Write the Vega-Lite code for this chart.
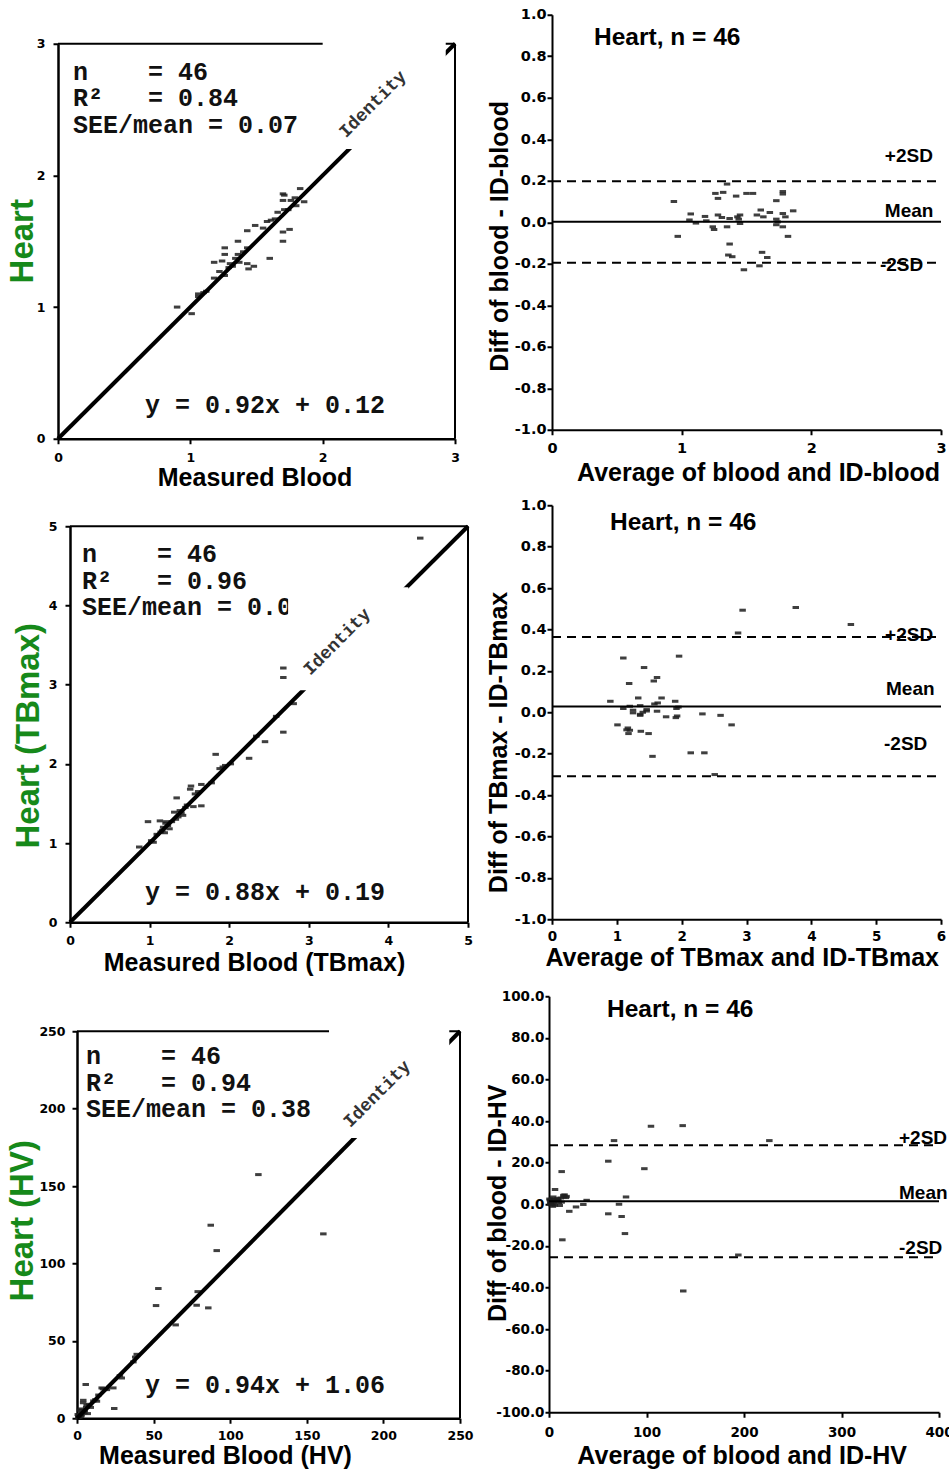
{
  "$schema": "https://vega.github.io/schema/vega-lite/v6.json",
  "background": "white",
  "padding": {"left": 6, "top": 6.75, "right": 0, "bottom": 0},
  "config": {
    "view": {"stroke": null},
    "axis": {
      "grid": false,
      "domainColor": "#000",
      "domainWidth": 2,
      "tickColor": "#000",
      "tickSize": 5,
      "tickWidth": 2,
      "labelColor": "#000",
      "labelFont": "DejaVu Sans",
      "labelFontWeight": "bold",
      "labelFlush": false,
      "labelOverlap": false,
      "titleFont": "Liberation Sans",
      "titleFontWeight": "bold",
      "titleColor": "#000",
      "titleFontSize": 25,
      "titleBaseline": "middle"
    }
  },
  "datasets": {
    "heart": [
      {"blood":0.90,"heart":1.00},{"blood":1.01,"heart":0.95},{"blood":1.06,"heart":1.10},{"blood":1.06,"heart":1.08},{"blood":1.12,"heart":1.12},
      {"blood":1.18,"heart":1.22},{"blood":1.26,"heart":1.24},{"blood":1.18,"heart":1.34},{"blood":1.24,"heart":1.35},{"blood":1.26,"heart":1.45},
      {"blood":1.26,"heart":1.40},{"blood":1.30,"heart":1.33},{"blood":1.32,"heart":1.31},{"blood":1.36,"heart":1.40},{"blood":1.37,"heart":1.34},
      {"blood":1.36,"heart":1.50},{"blood":1.43,"heart":1.33},{"blood":1.48,"heart":1.31},{"blood":1.44,"heart":1.29},{"blood":1.43,"heart":1.45},
      {"blood":1.43,"heart":1.58},{"blood":1.49,"heart":1.62},{"blood":1.55,"heart":1.60},{"blood":1.60,"heart":1.37},{"blood":1.58,"heart":1.65},
      {"blood":1.61,"heart":1.66},{"blood":1.66,"heart":1.72},{"blood":1.70,"heart":1.57},{"blood":1.70,"heart":1.50},{"blood":1.75,"heart":1.59},
      {"blood":1.71,"heart":1.74},{"blood":1.70,"heart":1.81},{"blood":1.70,"heart":1.86},{"blood":1.71,"heart":1.85},{"blood":1.76,"heart":1.81},
      {"blood":1.79,"heart":1.83},{"blood":1.80,"heart":1.77},{"blood":1.86,"heart":1.80},{"blood":1.83,"heart":1.90},{"blood":1.74,"heart":1.74},
      {"blood":1.22,"heart":1.27},{"blood":1.34,"heart":1.37},{"blood":1.40,"heart":1.42},{"blood":1.10,"heart":1.11},{"blood":1.64,"heart":1.67},
      {"blood":1.29,"heart":1.30}
    ],
    "heartBA": [
      {"mean":0.94,"diff":0.100},{"mean":0.97,"diff":-0.068},{"mean":1.07,"diff":0.040},{"mean":1.06,"diff":0.011},{"mean":1.11,"diff":-0.004},
      {"mean":1.18,"diff":0.028},{"mean":1.19,"diff":0.007},{"mean":1.24,"diff":-0.022},{"mean":1.25,"diff":-0.035},{"mean":1.26,"diff":0.139},
      {"mean":1.32,"diff":0.144},{"mean":1.28,"diff":0.115},{"mean":1.35,"diff":0.184},{"mean":1.28,"diff":0.035},{"mean":1.31,"diff":0.023},
      {"mean":1.35,"diff":-0.022},{"mean":1.37,"diff":0.018},{"mean":1.37,"diff":-0.105},{"mean":1.36,"diff":-0.158},{"mean":1.39,"diff":-0.166},
      {"mean":1.42,"diff":0.126},{"mean":1.43,"diff":0.026},{"mean":1.44,"diff":0.015},{"mean":1.45,"diff":-0.006},{"mean":1.48,"diff":-0.229},
      {"mean":1.50,"diff":0.139},{"mean":1.55,"diff":0.139},{"mean":1.58,"diff":0.035},{"mean":1.61,"diff":0.059},{"mean":1.62,"diff":-0.145},
      {"mean":1.66,"diff":-0.170},{"mean":1.60,"diff":-0.210},{"mean":1.63,"diff":0.026},{"mean":1.68,"diff":0.047},{"mean":1.73,"diff":0.104},
      {"mean":1.73,"diff":0.015},{"mean":1.73,"diff":-0.012},{"mean":1.78,"diff":-0.022},{"mean":1.78,"diff":0.042},{"mean":1.80,"diff":0.026},
      {"mean":1.78,"diff":0.148},{"mean":1.78,"diff":0.136},{"mean":1.82,"diff":-0.068},{"mean":1.86,"diff":0.055},{"mean":1.45,"diff":0.035},
      {"mean":1.74,"diff":0.002}
    ],
    "tbmax": [
      {"blood":2.68,"heart":3.21},{"blood":2.68,"heart":3.09},{"blood":2.81,"heart":2.76},{"blood":2.59,"heart":2.60},{"blood":2.68,"heart":2.40},
      {"blood":2.34,"heart":2.35},{"blood":2.45,"heart":2.28},{"blood":2.25,"heart":2.07},{"blood":1.83,"heart":2.12},{"blood":1.95,"heart":1.98},
      {"blood":1.88,"heart":1.94},{"blood":1.78,"heart":1.76},{"blood":1.65,"heart":1.74},{"blood":1.52,"heart":1.72},{"blood":1.51,"heart":1.68},
      {"blood":1.61,"heart":1.65},{"blood":1.34,"heart":1.57},{"blood":1.47,"heart":1.48},{"blood":1.55,"heart":1.46},{"blood":1.65,"heart":1.47},
      {"blood":1.38,"heart":1.41},{"blood":1.31,"heart":1.39},{"blood":1.42,"heart":1.35},{"blood":1.36,"heart":1.33},{"blood":0.98,"heart":1.27},
      {"blood":1.13,"heart":1.28},{"blood":1.21,"heart":1.27},{"blood":1.28,"heart":1.27},{"blood":1.17,"heart":1.20},{"blood":1.25,"heart":1.18},
      {"blood":1.14,"heart":1.14},{"blood":1.19,"heart":1.13},{"blood":1.09,"heart":1.11},{"blood":1.05,"heart":1.01},{"blood":0.87,"heart":0.95},
      {"blood":4.40,"heart":4.85},{"blood":1.92,"heart":1.96},{"blood":1.40,"heart":1.38},{"blood":1.23,"heart":1.22},{"blood":1.16,"heart":1.16},
      {"blood":1.57,"heart":1.62},{"blood":1.33,"heart":1.30},{"blood":1.02,"heart":1.03},{"blood":1.45,"heart":1.45},{"blood":1.20,"heart":1.25},
      {"blood":2.02,"heart":2.00}
    ],
    "tbmaxBA": [
      {"mean":2.94,"diff":0.493},{"mean":3.76,"diff":0.506},{"mean":4.61,"diff":0.424},{"mean":2.87,"diff":0.383},{"mean":1.10,"diff":0.262},
      {"mean":1.96,"diff":0.271},{"mean":1.42,"diff":0.216},{"mean":1.62,"diff":0.168},{"mean":1.57,"diff":0.151},{"mean":1.19,"diff":0.139},
      {"mean":0.90,"diff":0.053},{"mean":1.33,"diff":0.069},{"mean":1.69,"diff":0.069},{"mean":1.63,"diff":0.045},{"mean":1.90,"diff":0.053},
      {"mean":1.20,"diff":0.029},{"mean":1.36,"diff":0.032},{"mean":1.10,"diff":0.018},{"mean":1.46,"diff":0.013},{"mean":1.92,"diff":0.018},
      {"mean":1.25,"diff":-0.003},{"mean":1.36,"diff":-0.010},{"mean":1.46,"diff":0.006},{"mean":1.62,"diff":0.005},{"mean":1.36,"diff":-0.015},
      {"mean":1.76,"diff":-0.022},{"mean":1.93,"diff":-0.018},{"mean":1.91,"diff":-0.026},{"mean":2.32,"diff":-0.008},{"mean":2.60,"diff":-0.015},
      {"mean":1.01,"diff":-0.061},{"mean":2.77,"diff":-0.061},{"mean":1.17,"diff":-0.076},{"mean":1.20,"diff":-0.087},{"mean":1.37,"diff":-0.092},
      {"mean":1.18,"diff":-0.103},{"mean":1.49,"diff":-0.103},{"mean":1.55,"diff":-0.213},{"mean":2.14,"diff":-0.196},{"mean":2.35,"diff":-0.196},
      {"mean":2.51,"diff":-0.301},{"mean":1.25,"diff":0.010},{"mean":1.40,"diff":0.000},{"mean":1.58,"diff":0.040},{"mean":1.15,"diff":-0.085},
      {"mean":1.95,"diff":0.025}
    ],
    "hv": [
      {"blood":118.4,"heart":157.4},{"blood":160.8,"heart":119.1},{"blood":87.3,"heart":124.7},{"blood":91.2,"heart":108.3},{"blood":53.1,"heart":83.8},
      {"blood":51.6,"heart":72.8},{"blood":78.8,"heart":81.8},{"blood":78.1,"heart":73.0},{"blood":85.7,"heart":71.3},{"blood":64.4,"heart":60.3},
      {"blood":39.0,"heart":41.3},{"blood":36.8,"heart":36.4},{"blood":29.2,"heart":26.0},{"blood":23.7,"heart":19.6},{"blood":16.1,"heart":19.6},
      {"blood":5.7,"heart":21.8},{"blood":24.3,"heart":6.3},{"blood":4.1,"heart":11.6},{"blood":10.7,"heart":11.2},{"blood":6.3,"heart":8.4},
      {"blood":2.0,"heart":5.2},{"blood":0.5,"heart":2.4},{"blood":1.0,"heart":1.0},{"blood":2.0,"heart":2.5},{"blood":3.0,"heart":2.0},
      {"blood":3.5,"heart":4.0},{"blood":5.0,"heart":5.0},{"blood":2.5,"heart":6.0},{"blood":6.0,"heart":7.0},{"blood":8.0,"heart":9.0},
      {"blood":4.0,"heart":10.0},{"blood":12.0,"heart":12.0},{"blood":7.0,"heart":3.0},{"blood":1.5,"heart":0.5},{"blood":9.0,"heart":7.0},
      {"blood":14.0,"heart":15.0},{"blood":17.0,"heart":19.0},{"blood":19.5,"heart":18.5},{"blood":1.2,"heart":1.8},{"blood":0.8,"heart":0.4},
      {"blood":3.2,"heart":3.4},{"blood":28.0,"heart":27.5},{"blood":38.0,"heart":39.5},{"blood":13.0,"heart":11.0},{"blood":4.8,"heart":3.6},
      {"blood":2.6,"heart":1.2}
    ],
    "hvBA": [
      {"mean":104.6,"diff":37.5},{"mean":137.1,"diff":37.8},{"mean":66.7,"diff":30.6},{"mean":226.0,"diff":30.6},{"mean":60.8,"diff":20.7},
      {"mean":97.8,"diff":17.1},{"mean":13.0,"diff":15.7},{"mean":6.2,"diff":7.1},{"mean":14.7,"diff":4.3},{"mean":17.4,"diff":3.2},
      {"mean":4.4,"diff":3.5},{"mean":1.0,"diff":1.9},{"mean":3.8,"diff":0.3},{"mean":9.6,"diff":1.9},{"mean":38.6,"diff":1.9},
      {"mean":35.2,"diff":-0.1},{"mean":27.7,"diff":-1.3},{"mean":20.8,"diff":-3.4},{"mean":79.0,"diff":3.5},{"mean":71.8,"diff":0.0},
      {"mean":60.8,"diff":-4.6},{"mean":74.5,"diff":-5.9},{"mean":77.9,"diff":-14.1},{"mean":13.7,"diff":-17.1},{"mean":194.2,"diff":-24.4},
      {"mean":137.7,"diff":-41.7},{"mean":0.5,"diff":2.5},{"mean":2.0,"diff":0.5},{"mean":3.0,"diff":2.5},{"mean":5.0,"diff":1.0},
      {"mean":6.0,"diff":-0.5},{"mean":8.0,"diff":2.0},{"mean":10.0,"diff":0.8},{"mean":12.0,"diff":3.0},{"mean":4.0,"diff":-1.0},
      {"mean":7.0,"diff":1.5},{"mean":15.0,"diff":3.5},{"mean":11.0,"diff":-0.6},{"mean":1.5,"diff":1.2},{"mean":2.5,"diff":-0.3},
      {"mean":9.0,"diff":2.8},{"mean":13.0,"diff":1.0},{"mean":16.0,"diff":4.5},{"mean":18.0,"diff":3.8},{"mean":5.5,"diff":2.2},
      {"mean":1.2,"diff":0.2}
    ]
  },
  "concat": [
    {
      "hconcat": [
        {
          "width": 397,
          "height": 424,
          "layer": [
            {
              "data": {"name": "heart"},
              "mark": {"type": "point", "shape": "stroke", "size": 42, "strokeWidth": 3, "color": "#1e1e1e", "opacity": 0.85},
              "encoding": {
                "x": {"field": "blood", "type": "quantitative", "scale": {"domain": [0, 3], "nice": false, "zero": false},
                  "axis": {"values": [0, 1, 2, 3], "format": "d", "title": "Measured Blood", "titleX": 196.5, "titleY": 38.7, "labelFontSize": 12.5, "labelPadding": 8, "domainWidth": 2.5}},
                "y": {"field": "heart", "type": "quantitative", "scale": {"domain": [0, 3], "nice": false, "zero": false, "range": [424, 29]},
                  "axis": {"values": [0, 1, 2, 3], "format": "d", "title": "Heart", "titleColor": "#16891a", "titleFontSize": 33, "titleX": -35.5, "titleY": 226, "labelFontSize": 12.5, "labelPadding": 8, "domainWidth": 2.5}}
              }
            },
            {
              "data": {"values": [{}]},
              "mark": {"type": "rule", "strokeWidth": 4, "color": "#000"},
              "encoding": {"x": {"datum": 0, "type": "quantitative"}, "y": {"datum": 0, "type": "quantitative"}, "x2": {"datum": 3}, "y2": {"datum": 3}}
            },
            {
              "data": {"values": [{}]},
              "mark": {"type": "rule", "strokeWidth": 2, "color": "#000"},
              "encoding": {"x": {"datum": 0, "type": "quantitative"}, "x2": {"datum": 3}, "y": {"datum": 3, "type": "quantitative"}}
            },
            {
              "data": {"values": [{}]},
              "mark": {"type": "rule", "strokeWidth": 2, "color": "#000"},
              "encoding": {"x": {"datum": 3, "type": "quantitative"}, "y": {"datum": 0, "type": "quantitative"}, "y2": {"datum": 3}}
            },
            {
              "data": {"values": [{}]},
              "mark": {"type": "rect", "color": "white"},
              "encoding": {"x": {"datum": 2.0, "type": "quantitative"}, "x2": {"datum": 2.93}, "y": {"datum": 2.2, "type": "quantitative"}, "y2": {"datum": 3.03}}
            },
            {
              "data": {"values": [{}]},
              "mark": {"type": "text", "text": "Identity", "angle": -45, "font": "Liberation Mono", "fontWeight": "bold", "fontSize": 18, "color": "#333", "align": "center", "baseline": "middle"},
              "encoding": {"x": {"datum": 2.38, "type": "quantitative"}, "y": {"datum": 2.54, "type": "quantitative"}}
            },
            {
              "data": {"values": [{}]},
              "mark": {"type": "text", "text": ["n\u00a0\u00a0\u00a0\u00a0= 46", "R²\u00a0\u00a0\u00a0= 0.84", "SEE/mean = 0.07"], "lineHeight": 26.5, "font": "Liberation Mono", "fontWeight": "bold", "fontSize": 25, "color": "#111", "align": "left", "baseline": "middle"},
              "encoding": {"x": {"datum": 0.113, "type": "quantitative"}, "y": {"datum": 2.787, "type": "quantitative"}}
            },
            {
              "data": {"values": [{}]},
              "mark": {"type": "text", "text": "y = 0.92x + 0.12", "font": "Liberation Mono", "fontWeight": "bold", "fontSize": 25, "color": "#111", "align": "left", "baseline": "middle"},
              "encoding": {"x": {"datum": 0.658, "type": "quantitative"}, "y": {"datum": 0.258, "type": "quantitative"}}
            }
          ]
        },
        {
          "width": 389,
          "height": 415,
          "layer": [
            {
              "data": {"name": "heartBA"},
              "mark": {"type": "point", "shape": "stroke", "size": 42, "strokeWidth": 3, "color": "#1e1e1e", "opacity": 0.85},
              "encoding": {
                "x": {"field": "mean", "type": "quantitative", "scale": {"domain": [0, 3], "nice": false, "zero": false},
                  "axis": {"values": [0, 1, 2, 3], "format": "d", "title": "Average of blood and ID-blood", "titleX": 206, "titleY": 42.7, "labelFontSize": 14.5, "labelPadding": 7}},
                "y": {"field": "diff", "type": "quantitative", "scale": {"domain": [-1, 1], "nice": false, "zero": false},
                  "axis": {"values": [-1, -0.8, -0.6, -0.4, -0.2, 0, 0.2, 0.4, 0.6, 0.8, 1], "format": ".1f", "labelExpr": "replace(datum.label, '−', '-')", "title": "Diff of blood - ID-blood", "titleX": -53, "titleY": 221, "labelFontSize": 14.5, "labelPadding": 1}}
              }
            },
            {
              "data": {"values": [{}]},
              "mark": {"type": "rule", "strokeWidth": 2, "color": "#000"},
              "encoding": {"x": {"datum": 0, "type": "quantitative"}, "x2": {"datum": 3}, "y": {"datum": 0.002, "type": "quantitative"}}
            },
            {
              "data": {"values": [{}]},
              "mark": {"type": "rule", "strokeWidth": 2, "color": "#000", "strokeDash": [9, 6]},
              "encoding": {"x": {"datum": 0, "type": "quantitative"}, "x2": {"datum": 3}, "y": {"datum": 0.197, "type": "quantitative"}}
            },
            {
              "data": {"values": [{}]},
              "mark": {"type": "rule", "strokeWidth": 2, "color": "#000", "strokeDash": [9, 6]},
              "encoding": {"x": {"datum": 0, "type": "quantitative"}, "x2": {"datum": 3}, "y": {"datum": -0.195, "type": "quantitative"}}
            },
            {
              "data": {"values": [{}]},
              "mark": {"type": "text", "text": "Heart, n = 46", "font": "Liberation Sans", "fontWeight": "bold", "fontSize": 24.5, "color": "#000", "align": "left", "baseline": "middle"},
              "encoding": {"x": {"datum": 0.324, "type": "quantitative"}, "y": {"datum": 0.889, "type": "quantitative"}}
            },
            {
              "data": {"values": [{}]},
              "mark": {"type": "text", "text": "+2SD", "font": "Liberation Sans", "fontWeight": "bold", "fontSize": 19, "color": "#000", "align": "left", "baseline": "middle"},
              "encoding": {"x": {"datum": 2.567, "type": "quantitative"}, "y": {"datum": 0.32, "type": "quantitative"}}
            },
            {
              "data": {"values": [{}]},
              "mark": {"type": "text", "text": "Mean", "font": "Liberation Sans", "fontWeight": "bold", "fontSize": 19, "color": "#000", "align": "left", "baseline": "middle"},
              "encoding": {"x": {"datum": 2.567, "type": "quantitative"}, "y": {"datum": 0.055, "type": "quantitative"}}
            },
            {
              "data": {"values": [{}]},
              "mark": {"type": "text", "text": "-2SD", "font": "Liberation Sans", "fontWeight": "bold", "fontSize": 19, "color": "#000", "align": "left", "baseline": "middle"},
              "encoding": {"x": {"datum": 2.529, "type": "quantitative"}, "y": {"datum": -0.205, "type": "quantitative"}}
            }
          ]
        }
      ],
      "spacing": 97,
      "bounds": "flush"
    },
    {
      "concat": [
        {
          "hconcat": [
            {
              "width": 410,
              "height": 417,
              "layer": [
                {
                  "data": {"name": "tbmax"},
                  "mark": {"type": "point", "shape": "stroke", "size": 42, "strokeWidth": 3, "color": "#1e1e1e", "opacity": 0.85},
                  "encoding": {
                    "x": {"field": "blood", "type": "quantitative", "scale": {"domain": [0, 5], "nice": false, "zero": false, "range": [12, 410]},
                      "axis": {"values": [0, 1, 2, 3, 4, 5], "format": "d", "title": "Measured Blood (TBmax)", "titleX": 196, "titleY": 40.5, "labelFontSize": 12.5, "labelPadding": 7, "domainWidth": 2.5}},
                    "y": {"field": "heart", "type": "quantitative", "scale": {"domain": [0, 5], "nice": false, "zero": false, "range": [417, 21]},
                      "axis": {"values": [0, 1, 2, 3, 4, 5], "format": "d", "offset": -12, "title": "Heart (TBmax)", "titleColor": "#16891a", "titleFontSize": 33, "titleX": -42, "titleY": 230, "labelFontSize": 12.5, "labelPadding": 8, "domainWidth": 2.5}}
                  }
                },
                {
                  "data": {"values": [{}]},
                  "mark": {"type": "rule", "strokeWidth": 4, "color": "#000"},
                  "encoding": {"x": {"datum": 0, "type": "quantitative"}, "y": {"datum": 0, "type": "quantitative"}, "x2": {"datum": 5}, "y2": {"datum": 5}}
                },
                {
                  "data": {"values": [{}]},
                  "mark": {"type": "rule", "strokeWidth": 2, "color": "#000"},
                  "encoding": {"x": {"datum": 0, "type": "quantitative"}, "x2": {"datum": 5}, "y": {"datum": 5, "type": "quantitative"}}
                },
                {
                  "data": {"values": [{}]},
                  "mark": {"type": "rule", "strokeWidth": 2, "color": "#000"},
                  "encoding": {"x": {"datum": 5, "type": "quantitative"}, "y": {"datum": 0, "type": "quantitative"}, "y2": {"datum": 5}}
                },
                {
                  "data": {"values": [{}]},
                  "mark": {"type": "text", "text": ["n\u00a0\u00a0\u00a0\u00a0= 46", "R²\u00a0\u00a0\u00a0= 0.96", "SEE/mean = 0.0"], "lineHeight": 26.5, "font": "Liberation Mono", "fontWeight": "bold", "fontSize": 25, "color": "#111", "align": "left", "baseline": "middle"},
                  "encoding": {"x": {"datum": 0.151, "type": "quantitative"}, "y": {"datum": 4.646, "type": "quantitative"}}
                },
                {
                  "data": {"values": [{}]},
                  "mark": {"type": "rect", "color": "white"},
                  "encoding": {"x": {"datum": 2.74, "type": "quantitative"}, "x2": {"datum": 4.25}, "y": {"datum": 2.93, "type": "quantitative"}, "y2": {"datum": 4.23}}
                },
                {
                  "data": {"values": [{}]},
                  "mark": {"type": "text", "text": "Identity", "angle": -45, "font": "Liberation Mono", "fontWeight": "bold", "fontSize": 18, "color": "#333", "align": "center", "baseline": "middle"},
                  "encoding": {"x": {"datum": 3.358, "type": "quantitative"}, "y": {"datum": 3.539, "type": "quantitative"}}
                },
                {
                  "data": {"values": [{}]},
                  "mark": {"type": "text", "text": "y = 0.88x + 0.19", "font": "Liberation Mono", "fontWeight": "bold", "fontSize": 25, "color": "#111", "align": "left", "baseline": "middle"},
                  "encoding": {"x": {"datum": 0.942, "type": "quantitative"}, "y": {"datum": 0.379, "type": "quantitative"}}
                }
              ]
            },
            {
              "width": 389,
              "height": 414,
              "layer": [
                {
                  "data": {"name": "tbmaxBA"},
                  "mark": {"type": "point", "shape": "stroke", "size": 42, "strokeWidth": 3, "color": "#1e1e1e", "opacity": 0.85},
                  "encoding": {
                    "x": {"field": "mean", "type": "quantitative", "scale": {"domain": [0, 6], "nice": false, "zero": false},
                      "axis": {"values": [0, 1, 2, 3, 4, 5, 6], "format": "d", "title": "Average of TBmax and ID-TBmax", "titleX": 189.7, "titleY": 38, "labelFontSize": 13.5, "labelPadding": 5}},
                    "y": {"field": "diff", "type": "quantitative", "scale": {"domain": [-1, 1], "nice": false, "zero": false},
                      "axis": {"values": [-1, -0.8, -0.6, -0.4, -0.2, 0, 0.2, 0.4, 0.6, 0.8, 1], "format": ".1f", "labelExpr": "replace(datum.label, '−', '-')", "title": "Diff of TBmax - ID-TBmax", "titleX": -54, "titleY": 236.7, "labelFontSize": 14.5, "labelPadding": 1}}
                  }
                },
                {
                  "data": {"values": [{}]},
                  "mark": {"type": "rule", "strokeWidth": 2, "color": "#000"},
                  "encoding": {"x": {"datum": 0, "type": "quantitative"}, "x2": {"datum": 6}, "y": {"datum": 0.0275, "type": "quantitative"}}
                },
                {
                  "data": {"values": [{}]},
                  "mark": {"type": "rule", "strokeWidth": 2, "color": "#000", "strokeDash": [9, 6]},
                  "encoding": {"x": {"datum": 0, "type": "quantitative"}, "x2": {"datum": 6}, "y": {"datum": 0.364, "type": "quantitative"}}
                },
                {
                  "data": {"values": [{}]},
                  "mark": {"type": "rule", "strokeWidth": 2, "color": "#000", "strokeDash": [9, 6]},
                  "encoding": {"x": {"datum": 0, "type": "quantitative"}, "x2": {"datum": 6}, "y": {"datum": -0.309, "type": "quantitative"}}
                },
                {
                  "data": {"values": [{}]},
                  "mark": {"type": "text", "text": "Heart, n = 46", "font": "Liberation Sans", "fontWeight": "bold", "fontSize": 24.5, "color": "#000", "align": "left", "baseline": "middle"},
                  "encoding": {"x": {"datum": 0.895, "type": "quantitative"}, "y": {"datum": 0.913, "type": "quantitative"}}
                },
                {
                  "data": {"values": [{}]},
                  "mark": {"type": "text", "text": "+2SD", "font": "Liberation Sans", "fontWeight": "bold", "fontSize": 19, "color": "#000", "align": "left", "baseline": "middle"},
                  "encoding": {"x": {"datum": 5.137, "type": "quantitative"}, "y": {"datum": 0.372, "type": "quantitative"}}
                },
                {
                  "data": {"values": [{}]},
                  "mark": {"type": "text", "text": "Mean", "font": "Liberation Sans", "fontWeight": "bold", "fontSize": 19, "color": "#000", "align": "left", "baseline": "middle"},
                  "encoding": {"x": {"datum": 5.152, "type": "quantitative"}, "y": {"datum": 0.111, "type": "quantitative"}}
                },
                {
                  "data": {"values": [{}]},
                  "mark": {"type": "text", "text": "-2SD", "font": "Liberation Sans", "fontWeight": "bold", "fontSize": 19, "color": "#000", "align": "left", "baseline": "middle"},
                  "encoding": {"x": {"datum": 5.121, "type": "quantitative"}, "y": {"datum": -0.155, "type": "quantitative"}}
                }
              ]
            }
          ],
          "spacing": 84,
          "bounds": "flush"
        },
        {
          "hconcat": [
            {
              "width": 402,
              "height": 422,
              "layer": [
                {
                  "data": {"name": "hv"},
                  "mark": {"type": "point", "shape": "stroke", "size": 42, "strokeWidth": 3, "color": "#1e1e1e", "opacity": 0.85},
                  "encoding": {
                    "x": {"field": "blood", "type": "quantitative", "scale": {"domain": [0, 250], "nice": false, "zero": false, "range": [19, 402]},
                      "axis": {"values": [0, 50, 100, 150, 200, 250], "format": "d", "title": "Measured Blood (HV)", "titleX": 167, "titleY": 37, "labelFontSize": 12.5, "labelPadding": 6, "domainWidth": 2.5}},
                    "y": {"field": "heart", "type": "quantitative", "scale": {"domain": [0, 250], "nice": false, "zero": false, "range": [422, 35]},
                      "axis": {"values": [0, 50, 100, 150, 200, 250], "format": "d", "offset": -19, "title": "Heart (HV)", "titleColor": "#16891a", "titleFontSize": 33, "titleX": -54.5, "titleY": 224, "labelFontSize": 12.5, "labelPadding": 7, "domainWidth": 2.5}}
                  }
                },
                {
                  "data": {"values": [{}]},
                  "mark": {"type": "rule", "strokeWidth": 4, "color": "#000"},
                  "encoding": {"x": {"datum": 0, "type": "quantitative"}, "y": {"datum": 0, "type": "quantitative"}, "x2": {"datum": 250}, "y2": {"datum": 250}}
                },
                {
                  "data": {"values": [{}]},
                  "mark": {"type": "rule", "strokeWidth": 2, "color": "#000"},
                  "encoding": {"x": {"datum": 0, "type": "quantitative"}, "x2": {"datum": 250}, "y": {"datum": 250, "type": "quantitative"}}
                },
                {
                  "data": {"values": [{}]},
                  "mark": {"type": "rule", "strokeWidth": 2, "color": "#000"},
                  "encoding": {"x": {"datum": 250, "type": "quantitative"}, "y": {"datum": 0, "type": "quantitative"}, "y2": {"datum": 250}}
                },
                {
                  "data": {"values": [{}]},
                  "mark": {"type": "rect", "color": "white"},
                  "encoding": {"x": {"datum": 164.5, "type": "quantitative"}, "x2": {"datum": 243}, "y": {"datum": 181, "type": "quantitative"}, "y2": {"datum": 253}}
                },
                {
                  "data": {"values": [{}]},
                  "mark": {"type": "text", "text": "Identity", "angle": -45, "font": "Liberation Mono", "fontWeight": "bold", "fontSize": 18, "color": "#333", "align": "center", "baseline": "middle"},
                  "encoding": {"x": {"datum": 196, "type": "quantitative"}, "y": {"datum": 209.3, "type": "quantitative"}}
                },
                {
                  "data": {"values": [{}]},
                  "mark": {"type": "text", "text": ["n\u00a0\u00a0\u00a0\u00a0= 46", "R²\u00a0\u00a0\u00a0= 0.94", "SEE/mean = 0.38"], "lineHeight": 26.5, "font": "Liberation Mono", "fontWeight": "bold", "fontSize": 25, "color": "#111", "align": "left", "baseline": "middle"},
                  "encoding": {"x": {"datum": 5.9, "type": "quantitative"}, "y": {"datum": 233.8, "type": "quantitative"}}
                },
                {
                  "data": {"values": [{}]},
                  "mark": {"type": "text", "text": "y = 0.94x + 1.06", "font": "Liberation Mono", "fontWeight": "bold", "fontSize": 25, "color": "#111", "align": "left", "baseline": "middle"},
                  "encoding": {"x": {"datum": 44.4, "type": "quantitative"}, "y": {"datum": 21.3, "type": "quantitative"}}
                }
              ]
            },
            {
              "width": 390,
              "height": 416,
              "layer": [
                {
                  "data": {"name": "hvBA"},
                  "mark": {"type": "point", "shape": "stroke", "size": 42, "strokeWidth": 3, "color": "#1e1e1e", "opacity": 0.85},
                  "encoding": {
                    "x": {"field": "mean", "type": "quantitative", "scale": {"domain": [0, 400], "nice": false, "zero": false},
                      "axis": {"values": [0, 100, 200, 300, 400], "format": "d", "title": "Average of blood and ID-HV", "titleX": 192.7, "titleY": 43, "labelFontSize": 13.5, "labelPadding": 8}},
                    "y": {"field": "diff", "type": "quantitative", "scale": {"domain": [-100, 100], "nice": false, "zero": false},
                      "axis": {"values": [-100, -80, -60, -40, -20, 0, 20, 40, 60, 80, 100], "format": ".1f", "labelExpr": "replace(datum.label, '−', '-')", "title": "Diff of blood - ID-HV", "titleX": -52, "titleY": 206.5, "labelFontSize": 13.5, "labelPadding": 1, "tickSize": 4}}
                  }
                },
                {
                  "data": {"values": [{}]},
                  "mark": {"type": "rule", "strokeWidth": 2, "color": "#000"},
                  "encoding": {"x": {"datum": 0, "type": "quantitative"}, "x2": {"datum": 400}, "y": {"datum": 1.4, "type": "quantitative"}}
                },
                {
                  "data": {"values": [{}]},
                  "mark": {"type": "rule", "strokeWidth": 2, "color": "#000", "strokeDash": [9, 6]},
                  "encoding": {"x": {"datum": 0, "type": "quantitative"}, "x2": {"datum": 400}, "y": {"datum": 28.4, "type": "quantitative"}}
                },
                {
                  "data": {"values": [{}]},
                  "mark": {"type": "rule", "strokeWidth": 2, "color": "#000", "strokeDash": [9, 6]},
                  "encoding": {"x": {"datum": 0, "type": "quantitative"}, "x2": {"datum": 400}, "y": {"datum": -25.5, "type": "quantitative"}}
                },
                {
                  "data": {"values": [{}]},
                  "mark": {"type": "text", "text": "Heart, n = 46", "font": "Liberation Sans", "fontWeight": "bold", "fontSize": 24.5, "color": "#000", "align": "left", "baseline": "middle"},
                  "encoding": {"x": {"datum": 59.5, "type": "quantitative"}, "y": {"datum": 93.3, "type": "quantitative"}}
                },
                {
                  "data": {"values": [{}]},
                  "mark": {"type": "text", "text": "+2SD", "font": "Liberation Sans", "fontWeight": "bold", "fontSize": 19, "color": "#000", "align": "left", "baseline": "middle"},
                  "encoding": {"x": {"datum": 359, "type": "quantitative"}, "y": {"datum": 31.7, "type": "quantitative"}}
                },
                {
                  "data": {"values": [{}]},
                  "mark": {"type": "text", "text": "Mean", "font": "Liberation Sans", "fontWeight": "bold", "fontSize": 19, "color": "#000", "align": "left", "baseline": "middle"},
                  "encoding": {"x": {"datum": 359, "type": "quantitative"}, "y": {"datum": 5.3, "type": "quantitative"}}
                },
                {
                  "data": {"values": [{}]},
                  "mark": {"type": "text", "text": "-2SD", "font": "Liberation Sans", "fontWeight": "bold", "fontSize": 19, "color": "#000", "align": "left", "baseline": "middle"},
                  "encoding": {"x": {"datum": 359, "type": "quantitative"}, "y": {"datum": -21.2, "type": "quantitative"}}
                }
              ]
            }
          ],
          "spacing": 89,
          "bounds": "flush"
        }
      ],
      "columns": 1,
      "spacing": 13,
      "align": "none",
      "bounds": "full"
    }
  ],
  "columns": 1,
  "spacing": 6.5,
  "align": "none",
  "bounds": "full"
}
